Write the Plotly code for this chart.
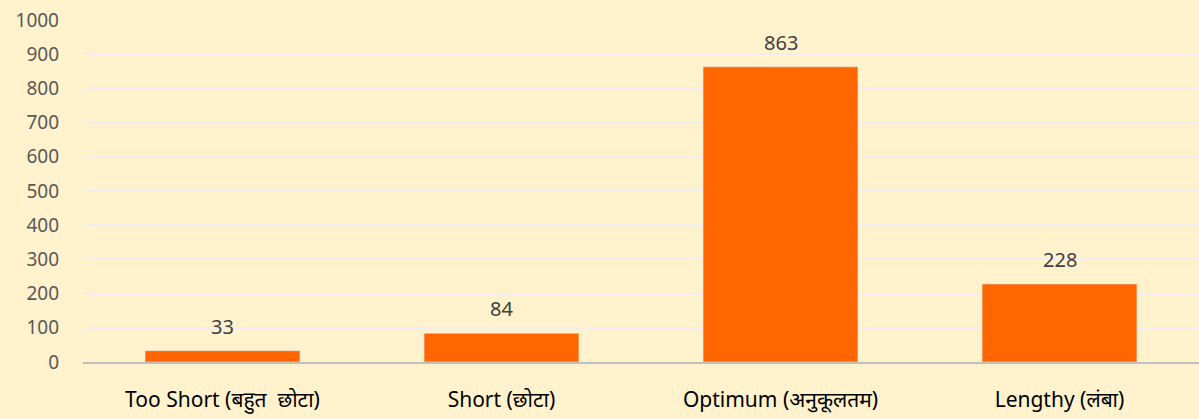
import plotly.graph_objects as go

categories = ["Too Short (बहुत  छोटा)", "Short (छोटा)", "Optimum (अनुकूलतम)", "Lengthy (लंबा)"]
counts = [33, 84, 863, 228]

fig = go.Figure()
fig.add_trace(go.Bar(x=categories, y=counts, marker_color="#FF6600", width=0.555))

# data labels sit well above the bars, like the Excel original
for c, v in zip(categories, counts):
    fig.add_annotation(x=c, y=v, text=str(v), showarrow=False, yanchor="bottom",
                       yshift=9, font=dict(size=20, color="#404040"))

fig.update_layout(
    width=1199, height=419,
    margin=dict(l=83, r=0, t=20, b=57),
    paper_bgcolor="#FFF2CC", plot_bgcolor="#FFF2CC",
    font=dict(family="Noto Sans, Open Sans, sans-serif", size=19),
    showlegend=False, bargap=0.445,
)
fig.update_yaxes(range=[0, 1000], dtick=100, showgrid=True, gridcolor="#EFEFEF", gridwidth=2,
                 zeroline=False, ticks="", ticklabelstandoff=23,
                 tickfont=dict(size=19, color="#595959"))
fig.update_xaxes(showline=True, linecolor="#BFBFBF", linewidth=2, ticks="",
                 ticklabelstandoff=18, tickfont=dict(size=21, color="#000000"))

fig.write_html("out.html", config={"displayModeBar": False},
               post_script="document.body.style.margin='0';")
